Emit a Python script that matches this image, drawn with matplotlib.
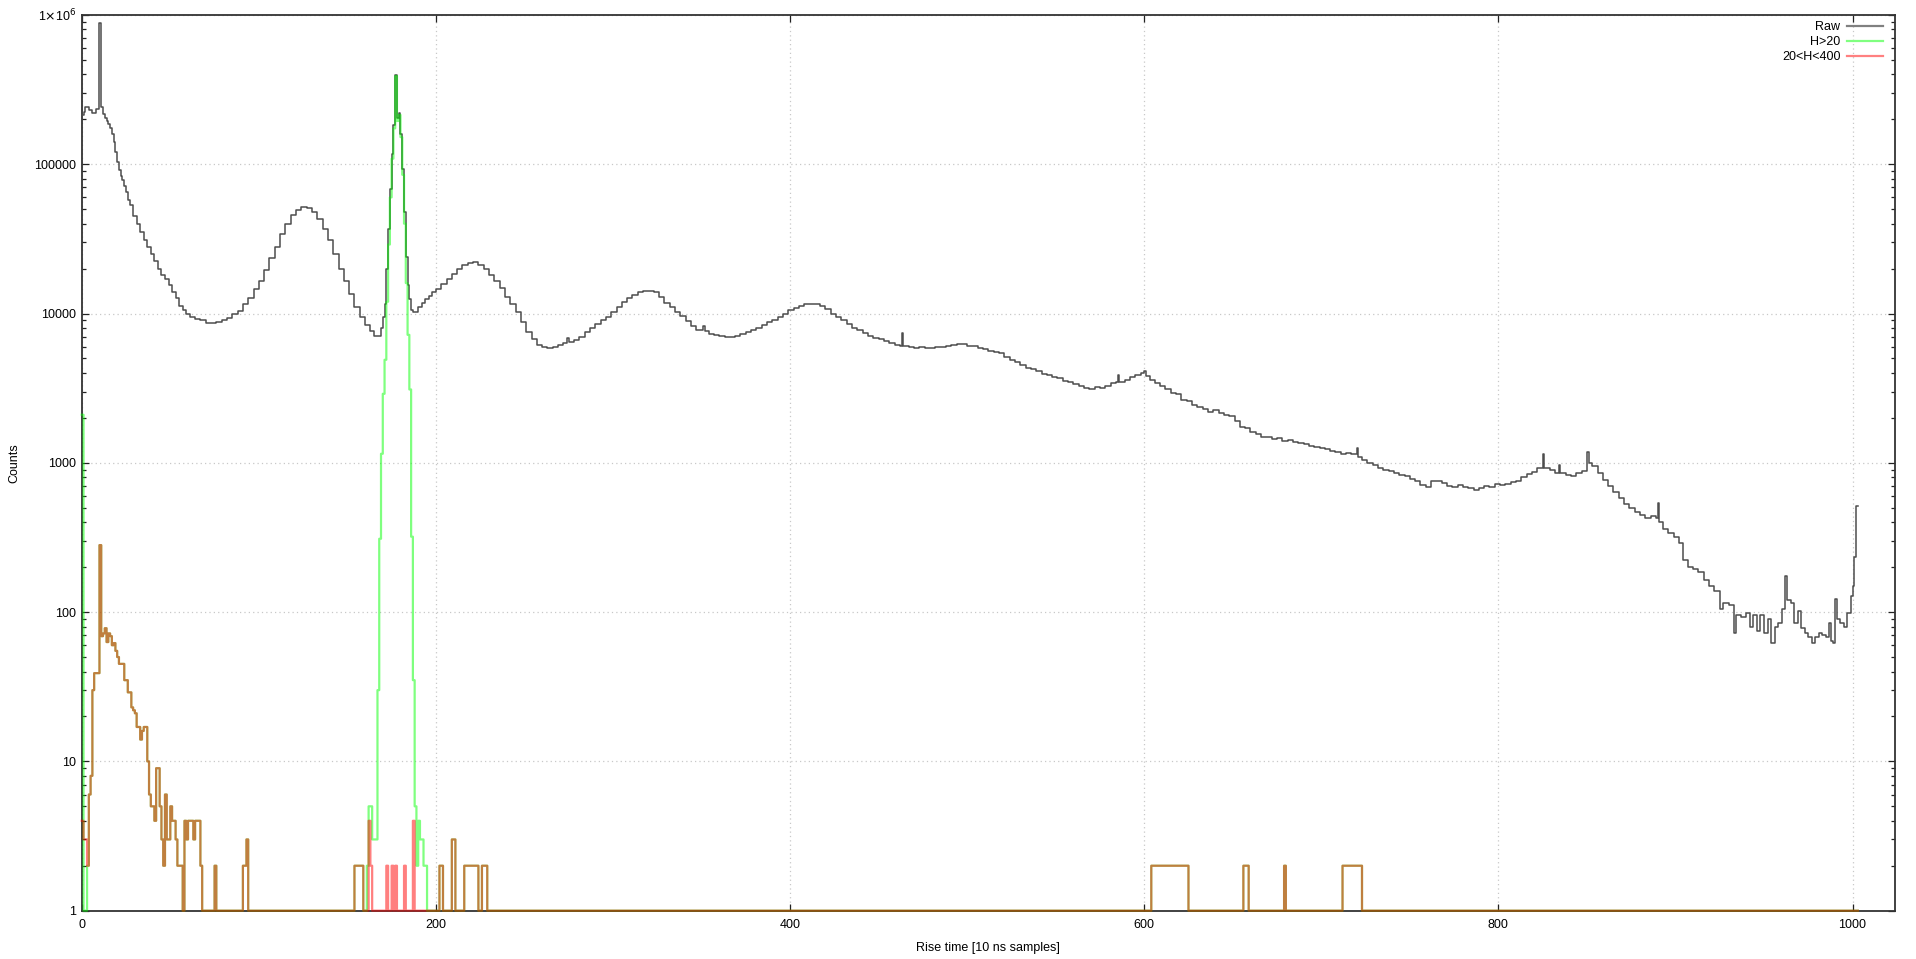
# Rise time histogram - raw vs cut spectra (log counts)

import matplotlib
matplotlib.use('Agg')
import matplotlib.pyplot as plt
from matplotlib.lines import Line2D
from matplotlib.ticker import FixedLocator, LogLocator, FuncFormatter, NullFormatter
import numpy as np

NBINS = 1004 # bins 0..1003
XMAX = 1024

# raw histogram (bin, counts)
raw_bins = [0, 1, 2, 4, 6, 8, 10, 11, 12, 13, 14, 15, 16, 17, 18, 19, 20, 21, 22, 23, 24, 25, 26, 27,
            29, 31, 33, 35, 37, 39, 41, 43, 45, 47, 49, 51, 53, 55, 57, 59, 61, 64, 67, 70, 73, 76, 79,
            82, 85, 88, 91, 94, 97, 100, 103, 106, 109, 112, 115, 118, 121, 124, 127, 130, 133, 136,
            139, 142, 145, 148, 151, 154, 157, 160, 163, 165, 169, 170, 171, 172, 173, 174, 175, 176,
            177, 178, 179, 180, 181, 182, 183, 184, 185, 186, 187, 190, 192, 194, 196, 198, 200, 203,
            206, 209, 212, 215, 218, 221, 224, 227, 230, 233, 236, 239, 242, 245, 248, 251, 254, 257,
            260, 263, 266, 269, 272, 274, 275, 278, 281, 284, 287, 290, 293, 296, 299, 302, 305, 308,
            311, 314, 317, 320, 323, 326, 329, 332, 335, 338, 341, 344, 347, 350, 351, 352, 354, 357,
            360, 363, 366, 369, 372, 375, 378, 381, 384, 387, 390, 393, 396, 399, 402, 405, 408, 411,
            414, 417, 420, 423, 426, 429, 432, 435, 438, 441, 444, 447, 450, 453, 456, 459, 462, 463,
            464, 467, 470, 473, 476, 479, 482, 485, 488, 491, 494, 497, 500, 503, 506, 509, 512, 515,
            518, 521, 524, 527, 530, 533, 536, 539, 542, 545, 548, 551, 554, 557, 560, 563, 566, 569,
            572, 575, 578, 581, 584, 585, 586, 589, 592, 595, 598, 600, 601, 603, 606, 609, 612, 615,
            618, 621, 624, 627, 630, 633, 636, 639, 642, 645, 648, 651, 654, 657, 660, 663, 666, 669,
            672, 675, 678, 681, 684, 687, 690, 693, 696, 699, 702, 705, 708, 711, 714, 717, 720, 721,
            723, 726, 729, 732, 735, 738, 741, 744, 747, 750, 753, 756, 759, 762, 765, 768, 771, 774,
            777, 780, 783, 786, 789, 792, 795, 798, 801, 804, 807, 810, 813, 816, 819, 822, 825, 826,
            829, 832, 834, 835, 838, 841, 844, 847, 850, 851, 853, 856, 859, 862, 865, 868, 871, 874,
            877, 880, 883, 886, 889, 890, 891, 893, 896, 899, 902, 904, 907, 910, 913, 916, 919, 922,
            925, 927, 930, 933, 934, 937, 940, 942, 944, 946, 948, 950, 952, 954, 956, 958, 960, 962,
            963, 965, 967, 969, 971, 973, 975, 977, 979, 981, 983, 985, 987, 988, 989, 990, 991, 993,
            995, 997, 999, 1000, 1001, 1002]
raw_counts = [214000, 225000, 240000, 232000, 222000, 235000, 880000, 240000, 218000, 205000, 195000,
              185000, 176000, 160000, 140000, 120000, 104000, 92000, 84000, 78000, 72000, 65000, 58000,
              53000, 45000, 40000, 35000, 31000, 28000, 25000, 22500, 20000, 18000, 17000, 15500, 14000,
              12800, 11300, 10500, 10000, 9500, 9200, 9000, 8700, 8600, 8800, 9000, 9400, 9900, 10400,
              11500, 12800, 14500, 16500, 19500, 23500, 28000, 34000, 40000, 45500, 49500, 52000, 51000,
              48000, 43000, 37000, 31000, 25000, 20000, 16500, 13500, 11000, 9500, 8400, 7600, 7100,
              8000, 9500, 11500, 20000, 37000, 68000, 117000, 182000, 398000, 203000, 222000, 160000,
              93000, 48000, 24000, 15500, 12500, 10600, 10300, 11000, 11800, 12500, 13200, 14000, 14500,
              15800, 17000, 18500, 19800, 21000, 21800, 22000, 21300, 19800, 18000, 16500, 14800, 13000,
              11500, 10200, 8800, 7500, 6800, 6200, 6000, 5900, 5950, 6200, 6300, 6900, 6400, 6600,
              7000, 7500, 8000, 8500, 9000, 9500, 10200, 11000, 12000, 12800, 13400, 13900, 14200,
              14200, 14000, 13000, 11800, 11000, 10200, 9600, 8900, 8300, 7800, 7700, 8300, 7600, 7300,
              7200, 7100, 7000, 7000, 7050, 7300, 7500, 7700, 8000, 8400, 8800, 9100, 9500, 9900, 10500,
              10900, 11200, 11500, 11600, 11500, 11200, 10700, 10000, 9500, 9000, 8500, 8000, 7700,
              7400, 7100, 6900, 6800, 6500, 6300, 6200, 6100, 7400, 6100, 6000, 5900, 5950, 5850, 5900,
              6000, 6000, 6050, 6200, 6250, 6250, 6100, 6050, 5900, 5800, 5650, 5500, 5400, 5100, 4900,
              4700, 4500, 4350, 4250, 4100, 3950, 3900, 3750, 3700, 3550, 3500, 3350, 3250, 3150, 3100,
              3200, 3150, 3250, 3400, 3500, 3900, 3500, 3600, 3750, 3900, 4000, 4150, 3800, 3600, 3400,
              3250, 3100, 2950, 2900, 2650, 2600, 2450, 2350, 2300, 2200, 2250, 2150, 2100, 2050, 1900,
              1750, 1700, 1600, 1550, 1500, 1480, 1450, 1470, 1400, 1430, 1380, 1350, 1330, 1300, 1280,
              1250, 1240, 1200, 1180, 1150, 1170, 1140, 1250, 1100, 1050, 990, 960, 930, 900, 880, 850,
              830, 810, 780, 760, 710, 690, 750, 760, 730, 700, 690, 710, 690, 675, 660, 680, 700, 690,
              720, 710, 720, 740, 760, 800, 840, 870, 920, 1150, 930, 890, 860, 960, 860, 830, 810, 850,
              880, 1190, 1000, 950, 850, 770, 700, 640, 580, 530, 500, 470, 445, 430, 440, 430, 540, 400,
              360, 340, 320, 290, 225, 200, 195, 185, 165, 150, 138, 105, 115, 112, 72, 95, 93, 98, 80,
              96, 75, 95, 72, 90, 62, 80, 85, 105, 175, 120, 115, 85, 102, 78, 72, 68, 62, 68, 72, 70,
              68, 85, 64, 62, 122, 90, 85, 80, 98, 128, 150, 235, 510]

# low count bins seen in both cut spectra (H>20 and 20<H<400)
low_bins = [3, 4, 5, 6, 7, 8, 9, 10, 11, 12, 13, 14, 15, 16, 17, 18, 19, 20, 21, 22, 23, 24, 25, 26, 27,
            28, 29, 30, 31, 32, 33, 34, 35, 36, 37, 38, 39, 40, 41, 42, 43, 44, 45, 46, 47, 48, 49, 50,
            51, 52, 53, 54, 55, 56, 58, 59, 60, 61, 62, 63, 64, 65, 66, 67, 75, 91, 92, 93, 202, 203,
            209, 210, 679]
low_counts = [2, 6, 8, 30, 39, 39, 39, 281, 69, 72, 78, 63, 72, 69, 60, 62, 55, 50, 45, 45, 45, 35, 35,
              29, 29, 23, 22, 21, 17, 17, 14, 16, 17, 17, 10, 6, 5, 5, 4, 9, 9, 5, 3, 2, 6, 3, 3, 5, 4,
              4, 3, 2, 2, 2, 4, 3, 4, 4, 4, 3, 4, 4, 4, 2, 2, 2, 2, 3, 2, 2, 3, 3, 2]
# flat runs (first bin, last bin, counts)
low_runs = [(154, 158, 2), (216, 223, 2), (226, 228, 2), (604, 624, 2), (656, 658, 2), (712, 722, 2)]

# H>20 only
green_bins = [0, 161, 162, 163, 164, 165, 166, 167, 168, 169, 170, 171, 172, 173, 174, 175, 176, 177,
              178, 179, 180, 181, 182, 183, 184, 185, 186, 187, 188, 189, 190, 191, 192, 193, 194]
green_counts = [2100, 2, 5, 5, 3, 3, 3, 30, 310, 1150, 2900, 4900, 12000, 29000, 60000, 109000, 174000,
                390000, 195000, 214000, 152000, 85000, 40000, 16000, 7200, 3100, 320, 35, 5, 2, 4, 3,
                3, 2, 2]

# 20<H<400 only
red_bins = [0, 1, 2, 162, 163, 172, 175, 177, 182, 187]
red_counts = [4, 3, 3, 4, 2, 2, 2, 2, 2, 4]


def build(bins, counts):
    h = np.ones(NBINS) # empty bins sit on the bottom of the log axis
    for b, c in zip(low_bins, low_counts):
        h[b] = c
    for b0, b1, c in low_runs:
        h[b0:b1 + 1] = c
    for b, c in zip(bins, counts):
        h[b] = c
    return h


green = build(green_bins, green_counts)
red = build(red_bins, red_counts)
xb = np.arange(NBINS)

plt.rcParams['font.family'] = ['Liberation Sans', 'DejaVu Sans']
plt.rcParams['font.size'] = 9

fig = plt.figure(figsize=(19.16, 9.59), dpi=100)
ax = fig.add_axes([0.04267, 0.0504, 0.94637, 0.93399])

ax.step(raw_bins + [1003], raw_counts + [raw_counts[-1]], where='post', color='#4d4d4d', lw=1.1,
        zorder=3, clip_on=False)
ax.step(xb, green, where='post', color='#00ff00', alpha=0.5, lw=1.6, zorder=4, clip_on=False)
ax.step(xb, red, where='post', color='#ff0000', alpha=0.5, lw=1.6, zorder=5, clip_on=False)

ax.set_yscale('log')
ax.set_xlim(0, XMAX)
ax.set_ylim(1, 1e6)

ax.xaxis.set_major_locator(FixedLocator([0, 200, 400, 600, 800, 1000]))
ax.yaxis.set_major_locator(LogLocator(base=10, numticks=10))
ax.yaxis.set_minor_locator(LogLocator(base=10, subs=np.arange(2, 10), numticks=20))
ax.yaxis.set_minor_formatter(NullFormatter())


def ylab(v, pos):
    if v >= 1e6:
        return r'1$\times$10$^{6}$'
    return '%d' % round(v)


ax.yaxis.set_major_formatter(FuncFormatter(ylab))

ax.tick_params(which='both', direction='in', top=True, right=True, color='#222222', width=0.9)
ax.tick_params(which='major', length=5)
ax.tick_params(which='minor', length=2.6)
ax.tick_params(axis='x', pad=6)
ax.tick_params(axis='y', pad=4)

ax.grid(True, which='major', color='#c8c8c8', lw=0.9, ls=(0, (1, 2.5)))
for s in ax.spines.values():
    s.set_linewidth(1.3)
    s.set_color('#333333')

ax.set_xlabel('Rise time [10 ns samples]', va='center')
ax.xaxis.set_label_coords(0.5, -0.0422)
ax.set_ylabel('Counts', va='center')
ax.yaxis.set_label_coords(-0.037, 0.5)

handles = [Line2D([], [], color='#808080', lw=1.6),
           Line2D([], [], color='#80ff80', lw=1.6),
           Line2D([], [], color='#ff8080', lw=1.6)]
ax.legend(handles, ['Raw', 'H>20', '20<H<400'], loc='upper right', frameon=False, markerfirst=False,
          bbox_to_anchor=(1883 / 1916, (959 - 21) / 959), bbox_transform=fig.transFigure,
          borderpad=0, borderaxespad=0, handlelength=2.9, handletextpad=0.5, labelspacing=0.25,
          fontsize=9)

fig.savefig('out.png', dpi=100)
